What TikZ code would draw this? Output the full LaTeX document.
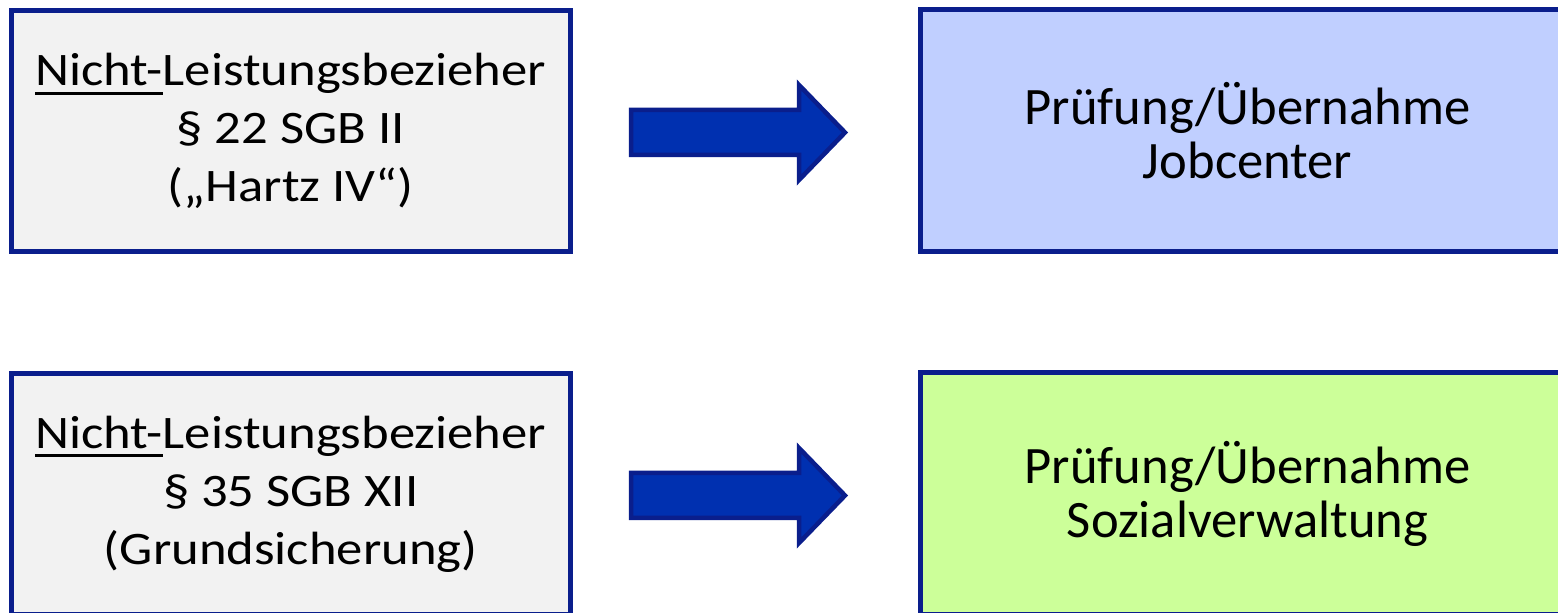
\documentclass[tikz,border=0pt]{standalone}
\usepackage{fontspec}
\setmainfont{Carlito}
\newfontfamily\widefont[FakeStretch=1.13]{Carlito}
\usepackage{tikz}
\usetikzlibrary{positioning}

\definecolor{boxline}{RGB}{10,30,140}
\definecolor{arrowfill}{RGB}{0,48,176}
\definecolor{greybox}{RGB}{242,242,242}
\definecolor{jcblue}{RGB}{192,207,255}
\definecolor{swgreen}{RGB}{204,255,153}

% thicker underline
\newcommand\thickul[1]{\setbox0\hbox{#1}\rlap{\rule[-4.5pt]{\wd0}{1.4pt}}#1}

\begin{document}
\begin{tikzpicture}[x=0.5pt, y=-0.5pt, on grid,
    leftbox/.style={draw=boxline, line width=2.5pt, fill=greybox, rectangle,
      minimum width=279.75pt, minimum height=120.5pt, inner sep=0pt,
      align=center, font=\widefont\fontsize{23.3}{29}\selectfont},
    rightbox/.style={draw=boxline, line width=2.5pt, rectangle,
      minimum width=327.5pt, minimum height=121pt, inner sep=0pt,
      align=center, font=\fontsize{26.3}{27}\selectfont},
    blockarrow/.style={draw=boxline, line width=2.25pt, fill=arrowfill, line join=miter}]
  \path[use as bounding box, clip] (0,0) rectangle (1558,613);

  \node[leftbox] (nlb22) at (290.75,131)
    {\thickul{Nicht-}Leistungsbezieher\\§ 22 SGB II\\(„Hartz IV“)};
  \node[rightbox, fill=jcblue] (jobc) [right=478.4pt of nlb22]
    {Prüfung/Übernahme\\Jobcenter};
  \node[leftbox] (nlb35) [below=181.5pt of nlb22]
    {\thickul{Nicht-}Leistungsbezieher\\§ 35 SGB XII\\(Grundsicherung)};
  \node[rightbox, fill=swgreen] (sozv) [below=181.5pt of jobc]
    {Prüfung/Übernahme\\Sozialverwaltung};

  % block arrows between the boxes
  \coordinate (arr22) at (738,132.5);
  \coordinate (arr35) at (738,495.5);
  \foreach \a in {arr22, arr35}
    \draw[blockarrow] ([shift={(-107,-22.5)}]\a) -- ++(168,0) -- ++(0,-25)
      -- ++(46,47.5) -- ++(-46,47.5) -- ++(0,-25) -- ++(-168,0) -- cycle;
\end{tikzpicture}
\end{document}
